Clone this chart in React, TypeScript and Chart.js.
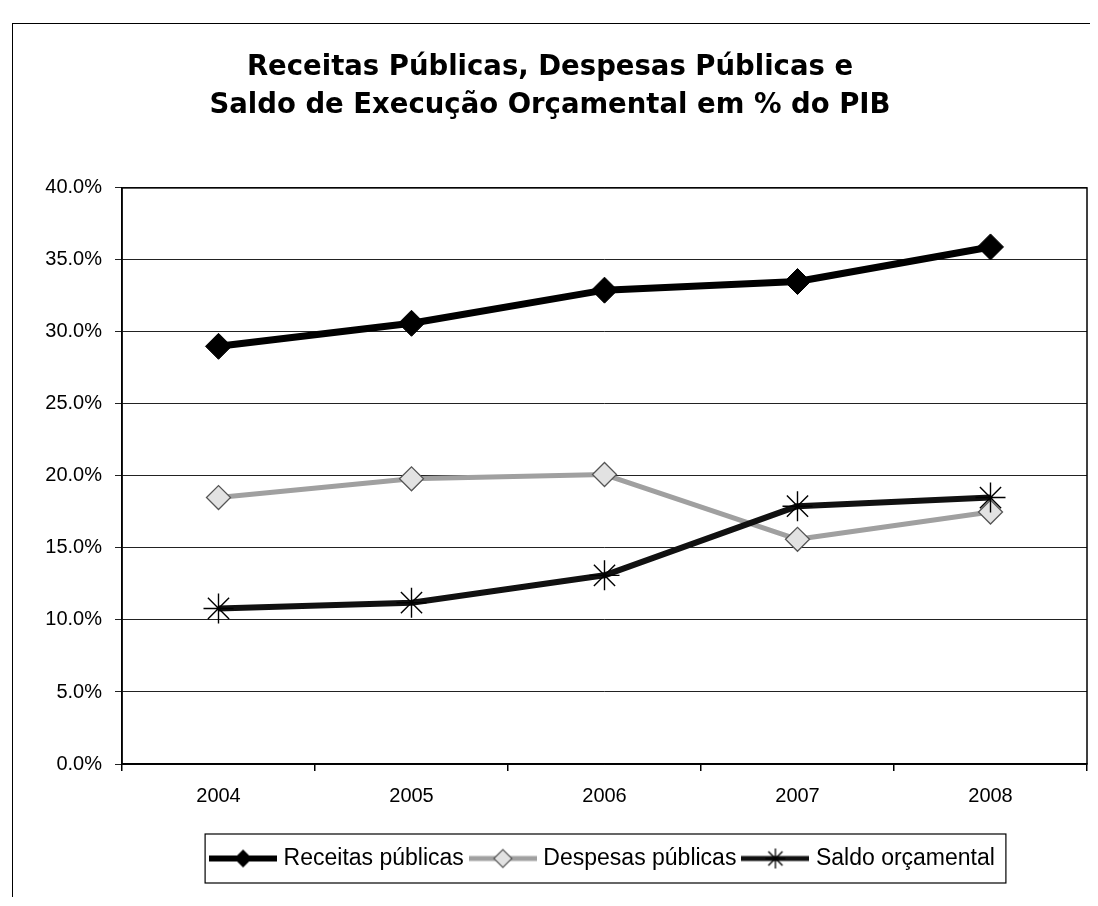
import React, { useEffect, useRef } from 'react';
import { Chart, registerables } from 'chart.js';

Chart.register(...registerables);

const years = ['2004', '2005', '2006', '2007', '2008'];
const receitas = [29.0, 30.6, 32.9, 33.5, 35.9];
const despesas = [18.5, 19.8, 20.1, 15.6, 17.5];
const saldo = [10.8, 11.2, 13.1, 17.9, 18.5];
const yTicks = [0, 5, 10, 15, 20, 25, 30, 35, 40];
const titleLines = [
  'Receitas Públicas, Despesas Públicas e',
  'Saldo de Execução Orçamental em % do PIB',
];
const seriesNames = ['Receitas públicas', 'Despesas públicas', 'Saldo orçamental'];

const AXIS_FONT = 'Liberation Sans, Arial, sans-serif';

function diamond(ctx: CanvasRenderingContext2D, cx: number, cy: number, r: number) {
  ctx.beginPath();
  ctx.moveTo(cx - r, cy);
  ctx.lineTo(cx, cy - r);
  ctx.lineTo(cx + r, cy);
  ctx.lineTo(cx, cy + r);
  ctx.closePath();
}

function makeSymbol(kind: number): HTMLCanvasElement {
  const c = document.createElement('canvas');
  c.width = 68;
  c.height = 24;
  const ctx = c.getContext('2d') as CanvasRenderingContext2D;
  const cx = 34;
  const cy = 12;
  ctx.beginPath();
  ctx.moveTo(0, cy);
  ctx.lineTo(68, cy);
  if (kind === 0) {
    ctx.strokeStyle = '#000';
    ctx.lineWidth = 6;
    ctx.stroke();
    diamond(ctx, cx, cy, 9);
    ctx.fillStyle = '#000';
    ctx.fill();
  } else if (kind === 1) {
    ctx.strokeStyle = '#a0a0a0';
    ctx.lineWidth = 5;
    ctx.stroke();
    diamond(ctx, cx, cy, 9);
    ctx.fillStyle = '#e2e2e2';
    ctx.fill();
    ctx.strokeStyle = '#555';
    ctx.lineWidth = 1.2;
    ctx.stroke();
  } else {
    ctx.strokeStyle = '#111';
    ctx.lineWidth = 5;
    ctx.stroke();
    ctx.strokeStyle = '#000';
    ctx.lineWidth = 1.3;
    const r = 10;
    ctx.beginPath();
    for (let k = 0; k < 4; k++) {
      const a = (k * Math.PI) / 4;
      ctx.moveTo(cx - Math.cos(a) * r, cy - Math.sin(a) * r);
      ctx.lineTo(cx + Math.cos(a) * r, cy + Math.sin(a) * r);
    }
    ctx.stroke();
  }
  return c;
}

const framePlugin = {
  id: 'frames',
  beforeDatasetsDraw(chart: any) {
    const { ctx, chartArea: a } = chart;
    ctx.save();
    ctx.strokeStyle = '#000';
    ctx.lineWidth = 1.5;
    ctx.strokeRect(a.left, a.top, a.right - a.left, a.bottom - a.top);
    ctx.restore();
  },
  afterDraw(chart: any) {
    const lg = chart.legend;
    if (!lg || !lg.legendHitBoxes || !lg.legendHitBoxes.length) return;
    const hb = lg.legendHitBoxes;
    let l = Infinity, r = -Infinity, t = Infinity, b = -Infinity;
    for (const h of hb) {
      l = Math.min(l, h.left);
      r = Math.max(r, h.left + h.width);
      t = Math.min(t, h.top);
      b = Math.max(b, h.top + h.height);
    }
    const { ctx } = chart;
    ctx.save();
    ctx.strokeStyle = '#000';
    ctx.lineWidth = 1.2;
    ctx.strokeRect(l - 9, t - 13, r - l + 20, b - t + 26);
    ctx.restore();
  },
};

export default function App() {
  const ref = useRef<HTMLCanvasElement | null>(null);

  useEffect(() => {
    if (!ref.current) return;
    const symbols = [makeSymbol(0), makeSymbol(1), makeSymbol(2)];
    const chart = new Chart(ref.current, {
      type: 'line',
      data: {
        labels: years,
        datasets: [
          {
            label: seriesNames[0],
            data: receitas,
            borderColor: '#000',
            borderWidth: 7,
            borderJoinStyle: 'round',
            pointStyle: 'rectRot',
            pointRadius: 13,
            pointBackgroundColor: '#000',
            pointBorderColor: '#000',
            pointBorderWidth: 1,
            order: 1,
          },
          {
            label: seriesNames[1],
            data: despesas,
            borderColor: '#a0a0a0',
            borderWidth: 5,
            borderJoinStyle: 'round',
            pointStyle: 'rectRot',
            pointRadius: 12,
            pointBackgroundColor: '#e2e2e2',
            pointBorderColor: '#555',
            pointBorderWidth: 1.3,
            order: 3,
          },
          {
            label: seriesNames[2],
            data: saldo,
            borderColor: '#111',
            borderWidth: 6,
            borderJoinStyle: 'round',
            pointStyle: 'star',
            pointRadius: 15,
            pointBackgroundColor: '#000',
            pointBorderColor: '#000',
            pointBorderWidth: 1.4,
            order: 2,
          },
        ],
      },
      options: {
        animation: false,
        responsive: false,
        events: [],
        layout: { autoPadding: false, padding: { left: 0, right: 4, top: 0, bottom: 17 } },
        plugins: {
          tooltip: { enabled: false },
          title: {
            display: true,
            text: titleLines,
            color: '#000',
            font: { family: 'DejaVu Sans', weight: 'bold', size: 27.5, lineHeight: 1.38 },
            padding: { top: 25, bottom: 63 },
          },
          legend: {
            position: 'bottom',
            fullSize: false,
            labels: {
              usePointStyle: true,
              pointStyleWidth: 58,
              padding: 10,
              color: '#000',
              font: { family: AXIS_FONT, size: 23 },
              generateLabels: (c: any) =>
                c.data.datasets.map((ds: any, i: number) => ({
                  text: ds.label,
                  pointStyle: symbols[i],
                  fillStyle: '#000',
                  strokeStyle: '#000',
                  lineWidth: 0,
                  hidden: false,
                  datasetIndex: i,
                  fontColor: '#000',
                })),
            },
          },
        },
        scales: {
          x: {
            type: 'category',
            offset: true,
            grid: {
              offset: true,
              drawOnChartArea: false,
              drawTicks: true,
              tickLength: 7,
              color: '#000',
              lineWidth: 1.5,
            },
            border: { display: true, color: '#000', width: 1.5 },
            ticks: {
              color: '#000',
              font: { family: AXIS_FONT, size: 20 },
              padding: 13,
              maxRotation: 0,
            },
            afterFit: (s: any) => {
              s.height = 73;
              s.paddingLeft = 0;
              s.paddingRight = 0;
            },
          },
          y: {
            min: 0,
            max: 40,
            afterBuildTicks: (s: any) => {
              s.ticks = yTicks.map((v) => ({ value: v }));
            },
            afterFit: (s: any) => {
              s.width = 109;
            },
            ticks: {
              color: '#000',
              font: { family: AXIS_FONT, size: 20 },
              padding: 13,
              callback: (v: any) => Number(v).toFixed(1) + '%',
            },
            grid: { color: '#222', lineWidth: 1, tickLength: 7, drawTicks: true },
            border: { display: true, color: '#000', width: 1.5 },
          },
        },
      },
      plugins: [framePlugin],
    } as any);
    return () => chart.destroy();
  }, []);

  return (
    <div style={{ paddingTop: 15, paddingLeft: 4 }}>
      <div
        style={{
          width: 1080,
          height: 874,
          boxSizing: 'border-box',
          borderTop: '1px solid #000',
          borderLeft: '1px solid #000',
          borderRight: '1px solid #000',
          background: '#fff',
        }}
      >
        <canvas ref={ref} width={1078} height={873} style={{ display: 'block' }} />
      </div>
    </div>
  );
}
